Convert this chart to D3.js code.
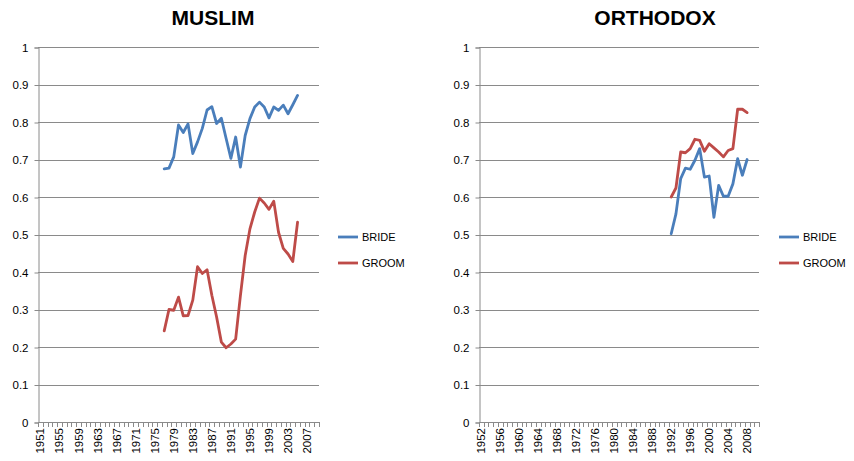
<!DOCTYPE html>
<html>
<head>
<meta charset="utf-8">
<script src="https://cdn.jsdelivr.net/npm/d3@7"></script>
<style>
  body { margin: 0; background: #fff; }
  svg text { font-family: "Liberation Sans", Arial, sans-serif; fill: #000; }
</style>
</head>
<body>
<svg id="chart" width="854" height="461"></svg>
<script>
// ── data ──
const muslimCategories = d3.range(1951, 2010);
const orthodoxCategories = d3.range(1952, 2011);

const muslimYears = d3.range(1977, 2006);
const muslimBride = [0.675, 0.677, 0.707, 0.792, 0.772, 0.795, 0.716, 0.747, 0.783, 0.832,
  0.841, 0.796, 0.81, 0.756, 0.703, 0.76, 0.68, 0.764, 0.809, 0.84,
  0.853, 0.84, 0.811, 0.84, 0.831, 0.845, 0.822, 0.846, 0.871];
const muslimGroom = [0.243, 0.3, 0.298, 0.333, 0.283, 0.284, 0.325, 0.414, 0.396, 0.406,
  0.338, 0.28, 0.213, 0.198, 0.208, 0.221, 0.337, 0.444, 0.515, 0.56,
  0.597, 0.584, 0.567, 0.589, 0.506, 0.463, 0.448, 0.428, 0.533];

const orthodoxYears = d3.range(1992, 2009);
const orthodoxBride = [0.502, 0.555, 0.649, 0.677, 0.674, 0.698, 0.729, 0.653, 0.656, 0.546,
  0.631, 0.602, 0.602, 0.635, 0.702, 0.658, 0.7];
const orthodoxGroom = [0.6, 0.624, 0.72, 0.718, 0.729, 0.754, 0.751, 0.722, 0.742, 0.731,
  0.72, 0.707, 0.724, 0.729, 0.834, 0.834, 0.825];

const yTicks = [0, 0.1, 0.2, 0.3, 0.4, 0.5, 0.6, 0.7, 0.8, 0.9, 1];
const seriesNames = ["BRIDE", "GROOM"];
const seriesColors = ["#4a7ebb", "#be4b48"];

const svg = d3.select("#chart");
const gridColor = "#8a8a8a";

function drawPanel(p) {
  const g = svg.append("g");
  const x = d3.scaleBand().domain(p.categories).range([p.left, p.right]).padding(0);
  const y = d3.scaleLinear().domain([0, 1]).range([422, 47]);

  g.append("text")
    .attr("x", p.titleX)
    .attr("y", 25)
    .attr("text-anchor", "middle")
    .style("font-weight", "bold")
    .style("font-size", "21px")
    .text(p.title);

  // gridlines
  g.selectAll("line.grid")
    .data(yTicks.filter(d => d > 0))
    .join("line")
    .attr("class", "grid")
    .attr("x1", p.left)
    .attr("x2", p.right)
    .attr("y1", d => Math.round(y(d)) + 0.5)
    .attr("y2", d => Math.round(y(d)) + 0.5)
    .attr("stroke", gridColor);

  // y axis
  const yAxis = d3.axisLeft(y).tickValues(yTicks).tickSize(4).tickPadding(6)
    .tickFormat(d => d3.format("~g")(d));
  const ya = g.append("g")
    .attr("transform", `translate(${p.left + 0.5},0.5)`)
    .call(yAxis);
  ya.select(".domain").attr("stroke", gridColor);
  ya.selectAll(".tick line").attr("stroke", gridColor);
  ya.selectAll(".tick text").style("font-size", "11.5px").style("font-family", "Liberation Sans, Arial, sans-serif");

  // x axis: category boundary ticks
  g.append("line")
    .attr("x1", p.left).attr("x2", p.right)
    .attr("y1", Math.round(y(0)) + 0.5).attr("y2", Math.round(y(0)) + 0.5)
    .attr("stroke", gridColor);
  g.selectAll("line.cat-tick")
    .data(p.categories.concat([null]))
    .join("line")
    .attr("class", "cat-tick")
    .attr("x1", d => Math.round(d === null ? p.right : x(d)) + 0.5)
    .attr("x2", d => Math.round(d === null ? p.right : x(d)) + 0.5)
    .attr("y1", Math.round(y(0)))
    .attr("y2", Math.round(y(0)) + 5)
    .attr("stroke", gridColor);

  g.selectAll("text.cat-label")
    .data(p.categories.filter((d, i) => i % 4 === 0))
    .join("text")
    .attr("class", "cat-label")
    .attr("transform", d => `translate(${x(d) + x.bandwidth() / 2},428) rotate(-90)`)
    .attr("text-anchor", "end")
    .attr("dy", "0.35em")
    .style("font-size", "11.5px")
    .text(d => d);

  // series
  const line = d3.line()
    .x(d => x(d.year) + x.bandwidth() / 2)
    .y(d => y(d.value));
  [p.bride, p.groom].forEach((vals, si) => {
    const pts = p.years.map((yr, i) => ({ year: yr, value: vals[i] }));
    g.append("path")
      .datum(pts)
      .attr("fill", "none")
      .attr("stroke", seriesColors[si])
      .attr("stroke-width", 2.8)
      .attr("stroke-linejoin", "round")
      .attr("stroke-linecap", "round")
      .attr("d", line);
  });

  // legend
  const lg = g.selectAll("g.legend")
    .data(seriesNames)
    .join("g")
    .attr("class", "legend")
    .attr("transform", (d, i) => `translate(${p.legendX},${237 + i * 26})`);
  lg.append("line")
    .attr("x1", 0).attr("x2", 20)
    .attr("stroke", (d, i) => seriesColors[i])
    .attr("stroke-width", 2.8);
  lg.append("text")
    .attr("x", 24)
    .attr("dy", "0.35em")
    .style("font-size", "11px")
    .text(d => d);
}

drawPanel({
  title: "MUSLIM", titleX: 213,
  categories: muslimCategories, left: 38, right: 319,
  years: muslimYears, bride: muslimBride, groom: muslimGroom,
  legendX: 338
});

drawPanel({
  title: "ORTHODOX", titleX: 655,
  categories: orthodoxCategories, left: 479, right: 759,
  years: orthodoxYears, bride: orthodoxBride, groom: orthodoxGroom,
  legendX: 779
});
</script>
</body>
</html>
